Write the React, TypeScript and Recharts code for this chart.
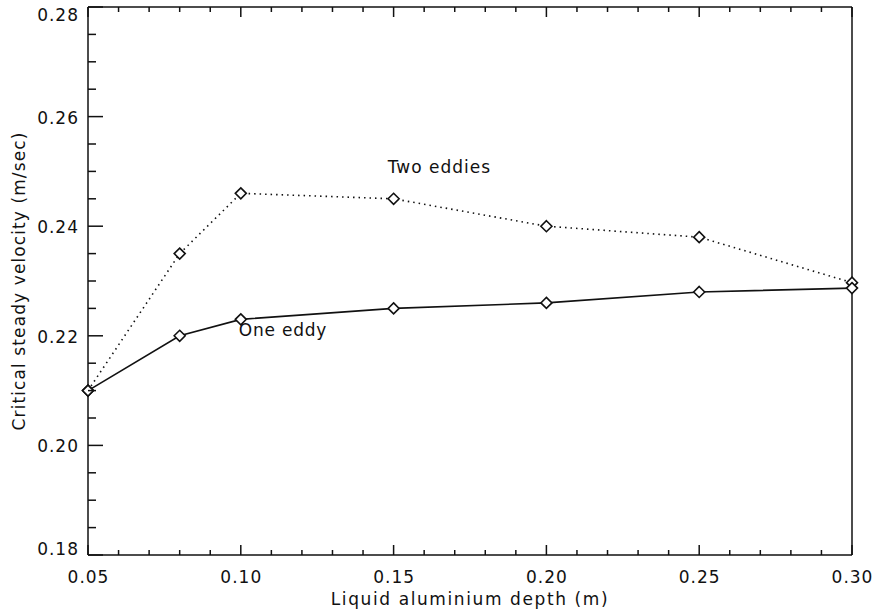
import { LineChart, Line, XAxis, YAxis, ReferenceDot } from "recharts";

const DEPTH = [0.05, 0.08, 0.1, 0.15, 0.2, 0.25, 0.3];
const ONE_EDDY = [0.21, 0.22, 0.223, 0.225, 0.226, 0.228, 0.2287];
const TWO_EDDIES = [0.21, 0.235, 0.246, 0.245, 0.24, 0.238, 0.2297];

const X_MAJOR = [0.05, 0.1, 0.15, 0.2, 0.25, 0.3];
const X_MINOR = [
  0.06, 0.07, 0.08, 0.09, 0.11, 0.12, 0.13, 0.14, 0.16, 0.17, 0.18, 0.19,
  0.21, 0.22, 0.23, 0.24, 0.26, 0.27, 0.28, 0.29,
];
const Y_MAJOR = [0.18, 0.2, 0.22, 0.24, 0.26, 0.28];
const Y_MINOR = [
  0.185, 0.19, 0.195, 0.205, 0.21, 0.215, 0.225, 0.23, 0.235, 0.245, 0.25,
  0.255, 0.265, 0.27, 0.275,
];

const X_TITLE = "Liquid aluminium depth (m)";
const Y_TITLE = "Critical steady velocity (m/sec)";
const TWO_LABEL = { x: 0.165, y: 0.2508, text: "Two eddies" };
const ONE_LABEL = { x: 0.1138, y: 0.221, text: "One eddy" };

const FONT = "'DejaVu Sans', sans-serif";
const INK = "#111";

const data = DEPTH.map((d, i) => ({ x: d, one: ONE_EDDY[i], two: TWO_EDDIES[i] }));
const xTicks = [...X_MAJOR, ...X_MINOR].sort((a, b) => a - b);
const yTicks = [...Y_MAJOR, ...Y_MINOR].sort((a, b) => a - b);

const isMajor = (list: number[], v: number) => list.some((m) => Math.abs(m - v) < 1e-9);

function BottomTick({ x, y, payload }: any) {
  const major = isMajor(X_MAJOR, payload.value);
  return (
    <g>
      <line x1={x} y1={y} x2={x} y2={y - (major ? 10 : 5)} stroke={INK} strokeWidth={1.5} />
      {major && (
        <text
          x={x + 0.5}
          y={y + 28}
          textAnchor="middle"
          fontSize={17}
          letterSpacing={1}
          fontFamily={FONT}
          fill={INK}
        >
          {payload.value.toFixed(2)}
        </text>
      )}
    </g>
  );
}

function TopTick({ x, y, payload }: any) {
  const major = isMajor(X_MAJOR, payload.value);
  return <line x1={x} y1={y} x2={x} y2={y + (major ? 10 : 5)} stroke={INK} strokeWidth={1.5} />;
}

function LeftTick({ x, y, payload }: any) {
  const major = isMajor(Y_MAJOR, payload.value);
  const v = payload.value;
  // end labels sit inside the axis span, as in the original plot
  let dy = 7;
  if (Math.abs(v - Y_MAJOR[Y_MAJOR.length - 1]) < 1e-9) dy = 14;
  if (Math.abs(v - Y_MAJOR[0]) < 1e-9) dy = 0;
  return (
    <g>
      <line x1={x} y1={y} x2={x + (major ? 15 : 8)} y2={y} stroke={INK} strokeWidth={1.5} />
      {major && (
        <text
          x={x - 9}
          y={y + dy}
          textAnchor="end"
          fontSize={17}
          letterSpacing={1}
          fontFamily={FONT}
          fill={INK}
        >
          {v.toFixed(2)}
        </text>
      )}
    </g>
  );
}

function RightTick({ x, y, payload }: any) {
  const major = isMajor(Y_MAJOR, payload.value);
  return <line x1={x} y1={y} x2={x - (major ? 15 : 8)} y2={y} stroke={INK} strokeWidth={1.5} />;
}

function Diamond({ cx, cy }: any) {
  if (cx == null || cy == null) return null;
  const r = 5.5;
  return (
    <polygon
      points={`${cx},${cy - r} ${cx + r},${cy} ${cx},${cy + r} ${cx - r},${cy}`}
      fill="#fff"
      stroke={INK}
      strokeWidth={1.6}
    />
  );
}

export default function App() {
  return (
    <div style={{ position: "absolute", left: 0, top: 0, background: "#fff" }}>
      <LineChart width={876} height={614} data={data} margin={{ top: 6, right: 23, bottom: 0, left: 0 }}>
        <XAxis
          type="number"
          dataKey="x"
          domain={[0.05, 0.3]}
          ticks={xTicks}
          interval={0}
          tickSize={0}
          tickMargin={0}
          height={59}
          stroke={INK}
          strokeWidth={1.5}
          tick={<BottomTick />}
          label={{
            value: X_TITLE,
            position: "insideBottom",
            offset: 9,
            fontSize: 17,
            letterSpacing: 1.6,
            fontFamily: FONT,
            fill: INK,
          }}
        />
        <XAxis
          xAxisId="top"
          orientation="top"
          type="number"
          dataKey="x"
          domain={[0.05, 0.3]}
          ticks={xTicks}
          interval={0}
          tickSize={0}
          tickMargin={0}
          height={1}
          stroke={INK}
          strokeWidth={1.5}
          tick={<TopTick />}
        />
        <YAxis
          type="number"
          domain={[0.18, 0.28]}
          ticks={yTicks}
          interval={0}
          tickSize={0}
          tickMargin={0}
          width={88}
          stroke={INK}
          strokeWidth={1.5}
          tick={<LeftTick />}
          label={{
            value: Y_TITLE,
            angle: -90,
            position: "insideLeft",
            offset: 19,
            fontSize: 17,
            letterSpacing: 1.1,
            fontFamily: FONT,
            fill: INK,
            style: { textAnchor: "middle" },
          }}
        />
        <YAxis
          yAxisId="right"
          orientation="right"
          type="number"
          domain={[0.18, 0.28]}
          ticks={yTicks}
          interval={0}
          tickSize={0}
          tickMargin={0}
          width={1}
          stroke={INK}
          strokeWidth={1.5}
          tick={<RightTick />}
        />
        <Line
          dataKey="two"
          stroke={INK}
          strokeWidth={1.6}
          strokeDasharray="1.5 4"
          dot={<Diamond />}
          isAnimationActive={false}
        />
        <Line dataKey="one" stroke={INK} strokeWidth={1.6} dot={<Diamond />} isAnimationActive={false} />
        <ReferenceDot
          x={TWO_LABEL.x}
          y={TWO_LABEL.y}
          r={0}
          stroke="none"
          label={{
            value: TWO_LABEL.text,
            position: "center",
            fontSize: 17,
            letterSpacing: 1,
            fontFamily: FONT,
            fill: INK,
          }}
        />
        <ReferenceDot
          x={ONE_LABEL.x}
          y={ONE_LABEL.y}
          r={0}
          stroke="none"
          label={{
            value: ONE_LABEL.text,
            position: "center",
            fontSize: 17,
            letterSpacing: 0.8,
            fontFamily: FONT,
            fill: INK,
          }}
        />
      </LineChart>
    </div>
  );
}
